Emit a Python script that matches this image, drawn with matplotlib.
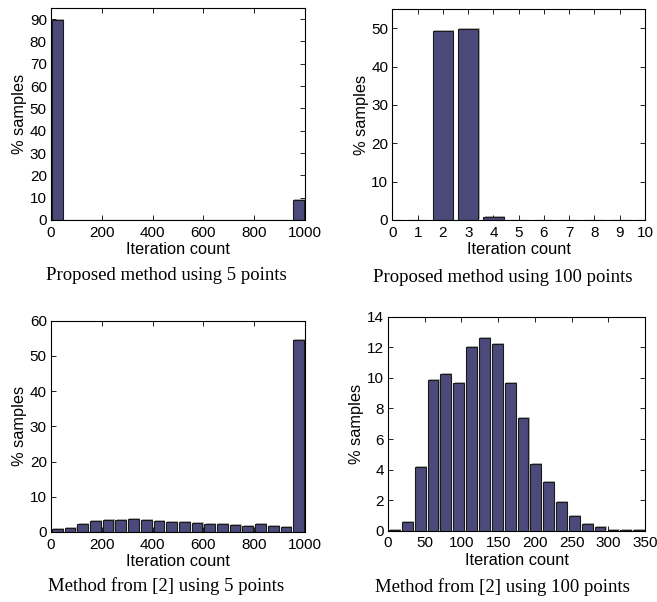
import matplotlib
matplotlib.use("Agg")
import matplotlib.pyplot as plt
import matplotlib.transforms as mtransforms
import numpy as np

# Histogram data (percent of samples per bin).
prop5_centers = np.arange(25, 1000, 50)
prop5_values = [89.7, 0.1, 0.1, 0.1, 0.1, 0.1, 0.1, 0.1, 0.1, 0.1,
                0.1, 0.1, 0.1, 0.1, 0.1, 0.1, 0.1, 0.1, 0.1, 9.0]

prop100_centers = np.arange(0, 11)
prop100_values = [0.05, 0.05, 49.3, 49.9, 0.9, 0.05, 0.05, 0.05, 0.05, 0.05, 0.05]

ref5_centers = np.arange(25, 1000, 50)
ref5_values = [0.93, 1.2, 2.4, 3.0, 3.4, 3.3, 3.55, 3.3, 3.0, 2.9,
               2.8, 2.5, 2.25, 2.15, 1.95, 1.7, 2.15, 1.6, 1.5, 54.4]

ref100_centers = np.arange(8.75, 350, 17.5)
ref100_values = [0.07, 0.58, 4.2, 9.87, 10.28, 9.67, 12.0, 12.59, 12.2, 9.67,
                 7.4, 4.37, 3.2, 1.9, 0.95, 0.45, 0.25, 0.05, 0.02, 0.02]

captions = ["Proposed method using 5 points", "Proposed method using 100 points",
            "Method from [2] using 5 points", "Method from [2] using 100 points"]

BAR = "#4b4a7b"
SANS = "Liberation Sans"
SERIF = "Liberation Serif"

fig = plt.figure(figsize=(6.57, 6.02), dpi=100)


def histo(rect, centers, values, width, xlim, ylim, xticks, yticks):
    ax = fig.add_axes(rect)
    # Grey shadow offset behind each bar, as in the original rendering.
    shadow = mtransforms.offset_copy(ax.transData, fig=fig, x=1.2, y=1.0, units="dots")
    ax.bar(centers, values, width=width, color="#b4b4b4", linewidth=0,
           transform=shadow, zorder=1)
    ax.bar(centers, values, width=width, color=BAR, edgecolor="#1a1a1a",
           linewidth=0.8, zorder=2)
    ax.set_xlim(*xlim)
    ax.set_ylim(*ylim)
    ax.set_xticks(xticks)
    ax.set_yticks(yticks)
    ax.tick_params(direction="in", top=True, right=True, length=3.5,
                   width=0.6, labelsize=11)
    ax.tick_params(axis="x", pad=4)
    ax.tick_params(axis="y", pad=3)
    for lab in ax.get_xticklabels() + ax.get_yticklabels():
        lab.set_fontfamily(SANS)
    for s in ax.spines.values():
        s.set_linewidth(0.8)
    ax.set_xlabel("Iteration count", fontfamily=SANS, fontsize=11.8, labelpad=2)
    ax.set_ylabel("% samples", fontfamily=SANS, fontsize=11.8, labelpad=2)
    return ax


histo([0.0776, 0.6346, 0.3866, 0.3522], prop5_centers, prop5_values, 42,
      (0, 1000), (0, 95), range(0, 1001, 200), range(0, 91, 10))
histo([0.5974, 0.6346, 0.3843, 0.3505], prop100_centers, prop100_values, 0.8,
      (0, 10), (0, 55), range(0, 11), range(0, 51, 10))
histo([0.0776, 0.1163, 0.3866, 0.3510], ref5_centers, ref5_values, 42,
      (0, 1000), (0, 60), range(0, 1001, 200), range(0, 61, 10))
histo([0.5906, 0.1184, 0.3912, 0.3555], ref100_centers, ref100_values, 14.7,
      (0, 350), (0, 14), range(0, 351, 50), range(0, 15, 2))

caption_pos = [(166, 275), (503, 278), (166, 586), (502, 587)]
for (x, y), text in zip(caption_pos, captions):
    fig.text(x / 657, 1 - y / 602, text, ha="center", va="center",
             fontfamily=SERIF, fontsize=13.5)

fig.savefig("out.png", dpi=100)
